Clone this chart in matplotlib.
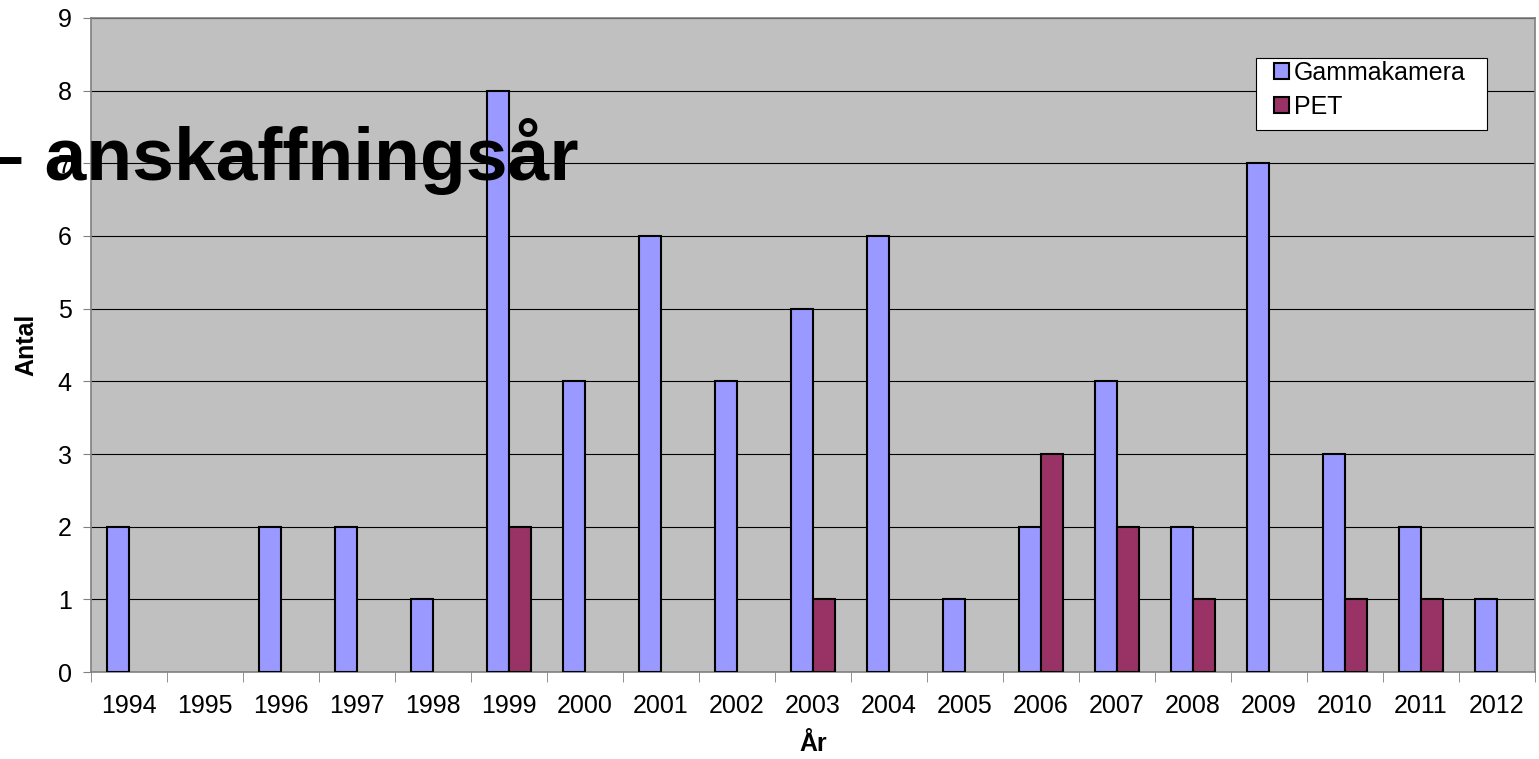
# Gammakameror och PET per anskaffningsår

import numpy as np
import matplotlib
matplotlib.use('Agg')
import matplotlib.pyplot as plt
from matplotlib.patches import Rectangle

years = ['1994', '1995', '1996', '1997', '1998', '1999', '2000', '2001', '2002', '2003',
         '2004', '2005', '2006', '2007', '2008', '2009', '2010', '2011', '2012']
gamma = [2, 0, 2, 2, 1, 8, 4, 6, 4, 5, 6, 1, 2, 4, 2, 7, 3, 2, 1]
pet = [0, 0, 0, 0, 0, 2, 0, 0, 0, 1, 0, 0, 3, 2, 1, 0, 1, 1, 0]

plt.rcParams['font.family'] = ['Liberation Sans', 'DejaVu Sans']

fig = plt.figure(figsize=(15.39, 7.59), dpi=100)
ax = fig.add_axes([0.0591, 0.1146, 0.9383, 0.8617])
ax.set_facecolor('#C0C0C0')

x = np.arange(len(years))
w = 0.29
g = np.array(gamma)
p = np.array(pet)
# Excel leaves zero-height bars out entirely
ax.bar(x[g > 0] - w / 2, g[g > 0], w, color='#9999FF', edgecolor='black',
       linewidth=1.5, label='Gammakamera', zorder=3)
ax.bar(x[p > 0] + w / 2, p[p > 0], w, color='#993366', edgecolor='black',
       linewidth=1.5, label='PET', zorder=3)

ax.set_xlim(-0.5, len(years) - 0.5)
ax.set_ylim(0, 9)
ax.set_yticks(range(10))
ax.yaxis.grid(True, color='black', linewidth=0.8, zorder=1)
ax.tick_params(axis='y', labelsize=18, length=6, color='#808080', pad=8)

ax.set_xticks(x)
ax.set_xticklabels(years, fontsize=18)
ax.tick_params(axis='x', which='major', length=0, pad=16)
ax.set_xticks(np.arange(len(years) + 1) - 0.5, minor=True)
ax.tick_params(axis='x', which='minor', length=7, color='#808080')

for s in ax.spines.values():
    s.set_color('#808080')
    s.set_linewidth(1.2)

ax.set_xlabel('År', fontsize=18, fontweight='bold', labelpad=10)
ax.set_ylabel('Antal', fontsize=18, fontweight='bold', labelpad=14)

# legend box drawn separately so the side padding can be wider than the top
ax.add_patch(Rectangle((0.807, 0.829), 0.160, 0.110, transform=ax.transAxes,
                       facecolor='white', edgecolor='black', linewidth=0.8,
                       zorder=4))
leg = ax.legend(loc='upper left', bbox_to_anchor=(0.819, 0.934), fontsize=18,
                frameon=False, handlelength=0.6, handleheight=0.6,
                handletextpad=0.2, borderpad=0, labelspacing=0.4,
                borderaxespad=0)
leg.set_zorder(5)

fig.text(-0.0117, 0.763, '– anskaffningsår', fontsize=54, fontweight='bold',
         ha='left', va='baseline')

fig.savefig('out.png', dpi=100)
